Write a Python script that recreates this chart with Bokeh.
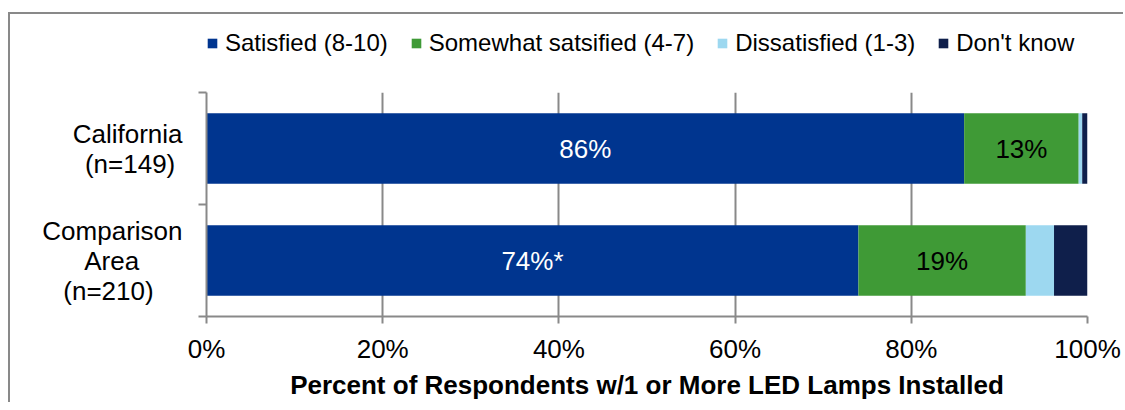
from bokeh.plotting import figure
from bokeh.layouts import column
from bokeh.models import (ColumnDataSource, Range1d, FixedTicker, Legend, LegendItem)
from bokeh.core.properties import value
from bokeh.embed import file_html
from bokeh.resources import INLINE

# --- data -------------------------------------------------------------
groups = ["California", "Comparison Area"]
group_labels = ["California\n(n=149)", "Comparison\nArea\n(n=210)"]
series = ["Satisfied (8-10)", "Somewhat satsified (4-7)", "Dissatisfied (1-3)", "Don't know"]
satisfied = [86, 74]
somewhat = [13, 19]
dissatisfied = [0.4, 3.2]
dont_know = [0.6, 3.8]
significance = ["", "*"]
x_ticks = [0, 20, 40, 60, 80, 100]

# --- styling ----------------------------------------------------------
FONT = "Liberation Sans"
colors = ["#00358F", "#3F9A36", "#9DD8F0", "#0F1F4B"]
gray = "#898989"
NBSP = "\u00a0"
# trailing padding so each multi-line name reads as a centred block
label_pad = [[0, 1], [0, 6, 4]]
W = 1113

keys = ["satisfied", "somewhat", "dissatisfied", "dont_know"]
ypos = [i + 0.5 for i in range(len(groups))]
src = ColumnDataSource(dict(y=ypos, satisfied=satisfied, somewhat=somewhat,
                            dissatisfied=dissatisfied, dont_know=dont_know))

# --- main chart -------------------------------------------------------
p = figure(width=W, height=338, output_backend="svg", toolbar_location=None,
           x_range=Range1d(0, 100), y_range=Range1d(len(groups), 0),
           min_border_left=196, min_border_right=W - 196 - 881,
           min_border_top=28, min_border_bottom=84)
p.outline_line_color = None
p.background_fill_color = "white"
p.border_fill_color = "white"

bars = p.hbar_stack(keys, y="y", height=0.63, color=colors, line_color=None, source=src)

# value labels inside the two largest segments
lab_x, lab_y, lab_t, lab_c = [], [], [], []
for i in range(len(groups)):
    lab_x.append(satisfied[i] / 2)
    lab_y.append(ypos[i])
    lab_t.append(f"{satisfied[i]}%{significance[i]}")
    lab_c.append("white")
    lab_x.append(satisfied[i] + somewhat[i] / 2)
    lab_y.append(ypos[i])
    lab_t.append(f"{somewhat[i]}%")
    lab_c.append("black")
p.text(x=lab_x, y=lab_y, text=lab_t, text_color=lab_c, text_align="center",
       text_baseline="middle", text_font=value(FONT), text_font_size="26px")

# x axis
p.xaxis.ticker = FixedTicker(ticks=x_ticks)
p.xaxis.major_label_overrides = {t: f"{t}%" for t in x_ticks}
p.xaxis.major_label_text_font = FONT
p.xaxis.major_label_text_font_size = "26px"
p.xaxis.major_label_text_color = "black"
p.xaxis.major_label_standoff = 10
p.xaxis.axis_label = "Percent of Respondents w/1 or More LED Lamps Installed"
p.xaxis.axis_label_text_font = FONT
p.xaxis.axis_label_text_font_size = "26px"
p.xaxis.axis_label_text_font_style = "bold"
p.xaxis.axis_label_text_color = "black"
p.xaxis.axis_label_standoff = 3
p.xaxis.axis_line_color = gray
p.xaxis.axis_line_width = 2
p.xaxis.major_tick_line_color = gray
p.xaxis.major_tick_line_width = 2
p.xaxis.major_tick_out = 7
p.xaxis.major_tick_in = 0
p.xaxis.minor_tick_line_color = None

# y axis: names at the bar centres, tick marks on the category boundaries
padded = []
for name, pads in zip(group_labels, label_pad):
    lines = name.split("\n")
    padded.append("\n".join(l + NBSP * n for l, n in zip(lines, pads)))
p.yaxis.ticker = FixedTicker(ticks=ypos, minor_ticks=list(range(len(groups) + 1)))
p.yaxis.major_label_overrides = {y: t for y, t in zip(ypos, padded)}
p.yaxis.major_label_text_font = FONT
p.yaxis.major_label_text_font_size = "26px"
p.yaxis.major_label_text_color = "black"
p.yaxis.major_label_text_line_height = 1.0
p.yaxis.major_label_standoff = 16
p.yaxis.major_tick_line_color = None
p.yaxis.major_tick_out = 0
p.yaxis.major_tick_in = 0
p.yaxis.axis_line_color = gray
p.yaxis.axis_line_width = 2
p.yaxis.minor_tick_line_color = gray
p.yaxis.minor_tick_line_width = 2
p.yaxis.minor_tick_out = 8
p.yaxis.minor_tick_in = 0

p.xgrid.ticker = FixedTicker(ticks=x_ticks)
p.xgrid.grid_line_color = gray
p.xgrid.grid_line_width = 2
p.ygrid.grid_line_color = None

# --- legend strip (its swatch renderers sit outside the visible ranges) -
lg = figure(width=W, height=50, output_backend="svg", toolbar_location=None,
            x_range=Range1d(200, 300), y_range=Range1d(10, 11),
            x_axis_type=None, y_axis_type=None,
            min_border_left=0, min_border_right=0, min_border_top=0, min_border_bottom=0)
lg.outline_line_color = None
lg.grid.grid_line_color = None
lg.background_fill_color = "white"
lg.border_fill_color = "white"
swatches = lg.hbar_stack(keys, y="y", height=0.63, color=colors, line_color=None, source=src)

legend = Legend(items=[LegendItem(label=s, renderers=[r]) for s, r in zip(series, swatches)],
                orientation="horizontal", location=(0, 7),
                glyph_width=12, glyph_height=12, label_standoff=7, spacing=22,
                padding=0, margin=0, border_line_color=None, background_fill_alpha=0,
                label_text_font=FONT, label_text_font_size="24px", label_text_color="black")
lg.add_layout(legend, "center")

layout = column(lg, p, spacing=0, margin=(12, 0, 0, 8),
                styles={"border-left": f"2px solid {gray}", "border-top": f"2px solid {gray}"})

open("out.html", "w").write(file_html(layout, INLINE))
